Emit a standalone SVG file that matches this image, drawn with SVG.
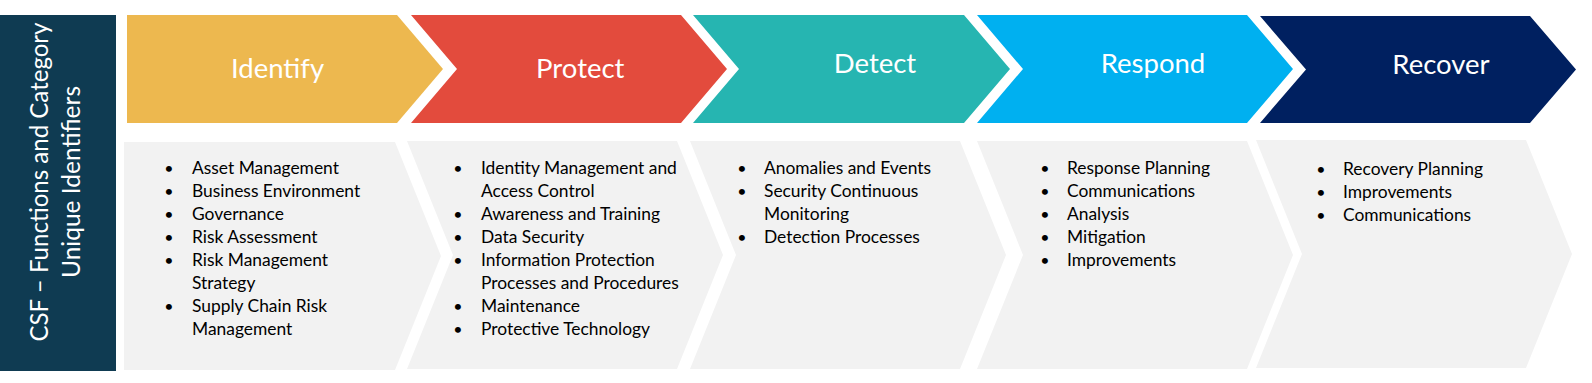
<svg xmlns="http://www.w3.org/2000/svg" width="1592" height="383" viewBox="0 0 1592 383">
<style>
.hd{font-family:Lato,"Open Sans",sans-serif;font-size:27.5px;fill:#fff;text-anchor:middle}
.side{font-family:Lato,"Open Sans",sans-serif;font-size:24.5px;fill:#fff;text-anchor:middle}
.it{font-family:Lato,"Open Sans",sans-serif;font-size:17.4px;fill:#000}
.bu{font-family:Lato,"Open Sans",sans-serif;font-size:16px;fill:#000;text-anchor:middle}
.panel{fill:#f2f2f2}
</style>
<rect width="1592" height="383" fill="#fff"/>
<g id="side">
<rect x="0" y="15" width="116" height="356" fill="#0f3b52"/>
<text class="side" transform="translate(48,182) rotate(-90)" textLength="319" lengthAdjust="spacingAndGlyphs">CSF – Functions and Category</text>
<text class="side" transform="translate(80,182) rotate(-90)" textLength="192" lengthAdjust="spacingAndGlyphs">Unique Identifiers</text>
</g>
<g id="identify">
<path d="M127,15 L397,15 L443,69 L397,123 L127,123 Z" fill="#edb84f"/>
<text class="hd" x="277.5" y="77.7">Identify</text>
<path class="panel" d="M124,142 L395,142 L441,256 L395,370 L124,370 Z"/>
<g>
<text class="bu" x="169" y="174.3">•</text><text class="it" x="192" y="174.3">Asset Management</text>
<text class="bu" x="169" y="197.3">•</text><text class="it" x="192" y="197.3">Business Environment</text>
<text class="bu" x="169" y="220.3">•</text><text class="it" x="192" y="220.3">Governance</text>
<text class="bu" x="169" y="243.3">•</text><text class="it" x="192" y="243.3">Risk Assessment</text>
<text class="bu" x="169" y="266.3">•</text><text class="it" x="192" y="266.3">Risk Management</text>
<text class="it" x="192" y="289.3">Strategy</text>
<text class="bu" x="169" y="312.3">•</text><text class="it" x="192" y="312.3">Supply Chain Risk</text>
<text class="it" x="192" y="335.3">Management</text>
</g>
</g>
<g id="protect">
<path d="M411,15 L681,15 L727,69 L681,123 L411,123 L457,69 Z" fill="#e34b3d"/>
<text class="hd" x="580.3" y="77.7">Protect</text>
<path class="panel" d="M407,141 L677,141 L723,255 L677,369 L407,369 L453,255 Z"/>
<g>
<text class="bu" x="458" y="174.3">•</text><text class="it" x="481" y="174.3">Identity Management and</text>
<text class="it" x="481" y="197.3">Access Control</text>
<text class="bu" x="458" y="220.3">•</text><text class="it" x="481" y="220.3">Awareness and Training</text>
<text class="bu" x="458" y="243.3">•</text><text class="it" x="481" y="243.3">Data Security</text>
<text class="bu" x="458" y="266.3">•</text><text class="it" x="481" y="266.3">Information Protection</text>
<text class="it" x="481" y="289.3">Processes and Procedures</text>
<text class="bu" x="458" y="312.3">•</text><text class="it" x="481" y="312.3">Maintenance</text>
<text class="bu" x="458" y="335.3">•</text><text class="it" x="481" y="335.3">Protective Technology</text>
</g>
</g>
<g id="detect">
<path d="M693,15 L964,15 L1010,69 L964,123 L693,123 L739,69 Z" fill="#26b5b1"/>
<text class="hd" x="875" y="73.3">Detect</text>
<path class="panel" d="M690,141 L960,141 L1006,255 L960,369 L690,369 L736,255 Z"/>
<g>
<text class="bu" x="742" y="174.3">•</text><text class="it" x="764" y="174.3">Anomalies and Events</text>
<text class="bu" x="742" y="197.3">•</text><text class="it" x="764" y="197.3">Security Continuous</text>
<text class="it" x="764" y="220.3">Monitoring</text>
<text class="bu" x="742" y="243.3">•</text><text class="it" x="764" y="243.3">Detection Processes</text>
</g>
</g>
<g id="respond">
<path d="M977,15 L1247,15 L1293,69 L1247,123 L977,123 L1023,69 Z" fill="#00b0f0"/>
<text class="hd" x="1153" y="73.3">Respond</text>
<path class="panel" d="M977,141 L1247,141 L1293,255 L1247,369 L977,369 L1023,255 Z"/>
<g>
<text class="bu" x="1045" y="174.3">•</text><text class="it" x="1067" y="174.3">Response Planning</text>
<text class="bu" x="1045" y="197.3">•</text><text class="it" x="1067" y="197.3">Communications</text>
<text class="bu" x="1045" y="220.3">•</text><text class="it" x="1067" y="220.3">Analysis</text>
<text class="bu" x="1045" y="243.3">•</text><text class="it" x="1067" y="243.3">Mitigation</text>
<text class="bu" x="1045" y="266.3">•</text><text class="it" x="1067" y="266.3">Improvements</text>
</g>
</g>
<g id="recover">
<path d="M1260,16 L1530,16 L1576,69.5 L1530,123 L1260,123 L1306,69.5 Z" fill="#002060"/>
<text class="hd" x="1441" y="74">Recover</text>
<path class="panel" d="M1256,140 L1526,140 L1572,254 L1526,368 L1256,368 L1302,254 Z"/>
<g>
<text class="bu" x="1321" y="175">•</text><text class="it" x="1343" y="175">Recovery Planning</text>
<text class="bu" x="1321" y="198">•</text><text class="it" x="1343" y="198">Improvements</text>
<text class="bu" x="1321" y="221">•</text><text class="it" x="1343" y="221">Communications</text>
</g>
</g>
<g id="connectors"></g>
</svg>
